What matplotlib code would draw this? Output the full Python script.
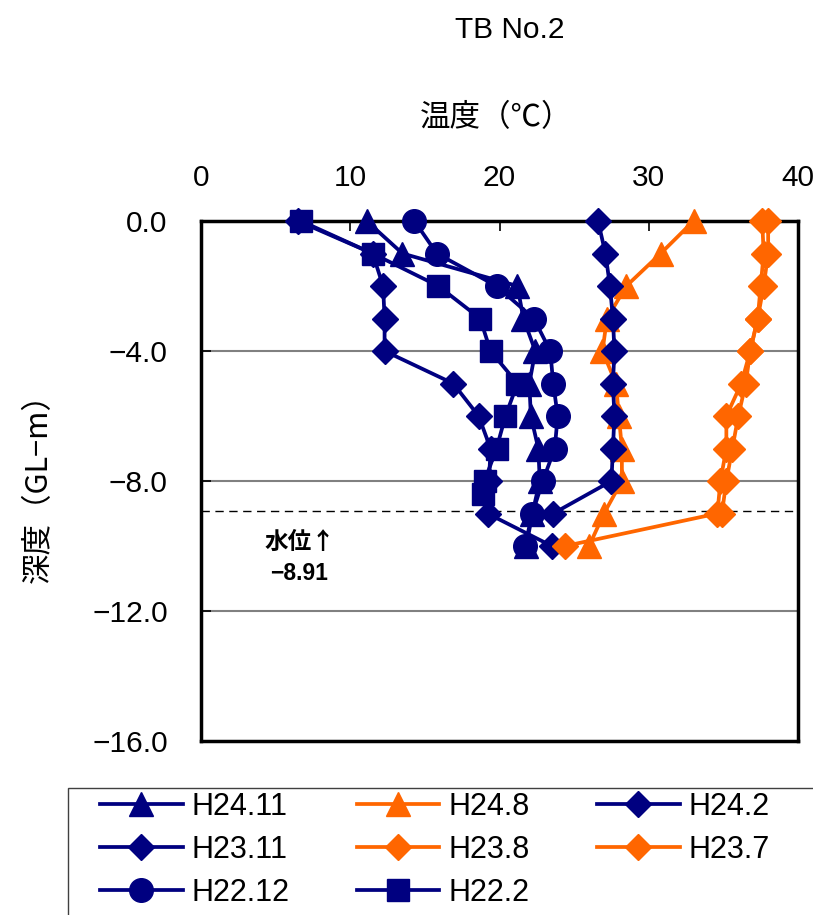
import matplotlib
matplotlib.use("Agg")
import matplotlib.pyplot as plt
from matplotlib.patches import Rectangle

plt.rcParams['font.family'] = ['Liberation Sans', 'Noto Sans CJK JP', 'DejaVu Sans']

# ---- data ----
depth = [0, -1, -2, -3, -4, -5, -6, -7, -8, -9, -10]
depth_h222 = [0, -1, -2, -3, -4, -5, -6, -7, -8, -8.4]
depth_h2311 = [0, -1, -2, -3, -4, -5, -6, -7, -8, -9]
depth_h237 = [0, -1, -2, -3, -4, -5, -6, -7, -8, -9]

h24_11 = [11.1, 13.5, 21.2, 21.6, 22.4, 22.0, 22.1, 22.6, 22.7, 22.2, 21.8]
h24_8 = [33.0, 30.8, 28.5, 27.2, 26.9, 27.8, 28.0, 28.2, 28.2, 27.0, 26.0]
h24_2 = [6.5, 11.5, 12.2, 12.3, 12.3, 16.9, 18.6, 19.4, 19.3, 19.2, 23.5]
h23_11 = [26.6, 27.1, 27.4, 27.6, 27.7, 27.6, 27.7, 27.6, 27.5, 23.6]
h23_8 = [37.6, 37.7, 37.5, 37.3, 36.8, 36.2, 35.2, 35.2, 34.8, 34.6, 24.4]
h23_7 = [38.0, 38.0, 37.7, 37.3, 36.8, 36.5, 36.0, 35.6, 35.2, 34.9]
h22_12 = [14.3, 15.8, 19.8, 22.3, 23.4, 23.6, 23.9, 23.7, 22.9, 22.2, 21.7]
h22_2 = [6.7, 11.5, 15.9, 18.7, 19.4, 21.2, 20.4, 19.8, 19.0, 18.9]

water_level = -8.91
x_ticks = [0, 10, 20, 30, 40]
y_ticks = [0, -4, -8, -12, -16]
y_ticklabels = ['0.0', '\u22124.0', '\u22128.0', '\u221212.0', '\u221216.0']

NAVY = '#000080'
ORANGE = '#FF6600'

fig = plt.figure(figsize=(8.13, 9.15), dpi=100)
ax = fig.add_axes([201/813, 1-741/915, (798-201)/813, (741-221)/915])

lw = 2.7
series = [
    ('H24.11', h24_11, depth, NAVY, '^', 17),
    ('H24.8', h24_8, depth, ORANGE, '^', 17),
    ('H24.2', h24_2, depth, NAVY, 'D', 13.5),
    ('H23.11', h23_11, depth_h2311, NAVY, 'D', 13.5),
    ('H23.8', h23_8, depth, ORANGE, 'D', 13.5),
    ('H23.7', h23_7, depth_h237, ORANGE, 'D', 13.5),
    ('H22.12', h22_12, depth, NAVY, 'o', 17),
    ('H22.2', h22_2, depth_h222, NAVY, 's', 16),
]
hd = {}
for name, t, d, c, m, s in series:
    h, = ax.plot(t, d, color=c, marker=m, markersize=s, linewidth=lw,
                 markeredgecolor=c, label=name, clip_on=False, zorder=3)
    hd[name] = h

ax.set_xlim(0, 40)
ax.set_ylim(-16, 0)
ax.xaxis.tick_top()
ax.set_xticks(x_ticks)
ax.set_yticks(y_ticks)
ax.set_yticklabels(y_ticklabels)
ax.tick_params(axis='both', direction='in', length=7, width=1.2, labelsize=21.5, pad=24)
ax.tick_params(axis='x', pad=21)
for y in [-4, -8, -12]:
    ax.axhline(y, color='#808080', linewidth=1.5, zorder=1)
ax.axhline(water_level, color='black', linewidth=1.0, linestyle=(0, (6, 4)), zorder=1)
for sp in ax.spines.values():
    sp.set_linewidth(2.5)
    sp.set_color('black')

ax.text(6.6, -9.87, '水位\u2191', ha='center', va='center', fontsize=17, fontweight='bold',
        family=['Noto Sans CJK JP', 'DejaVu Sans'])
ax.text(6.6, -10.85, '\u22128.91', ha='center', va='center', fontsize=16.5, fontweight='bold')

fig.text(510/813, 1-30/915, 'TB No.2', ha='center', va='center', fontsize=21.5)
fig.text(496/813, 1-118/915, '温度（℃）', ha='center', va='center', fontsize=22,
         family=['Noto Sans CJK JP', 'DejaVu Sans'])
fig.text(38/813, 1-481/915, '深度（GL\u2212m）', ha='center', va='center', fontsize=22, rotation=90,
         family=['Noto Sans CJK JP', 'DejaVu Sans'])

# legend frame
fig.patches.append(Rectangle((68/813, -0.1), 1.0, 0.1 + 1-788/915, transform=fig.transFigure,
                             facecolor='white', edgecolor='#404040', linewidth=1.0, zorder=0))
order = ['H24.11', 'H23.11', 'H22.12', 'H24.8', 'H23.8', 'H22.2', 'H24.2', 'H23.7']
leg = fig.legend(handles=[hd[n] for n in order], loc='upper left',
                 bbox_to_anchor=(100/813, 1-792/915),
                 ncol=3, frameon=False, handlelength=2.7, handletextpad=0.3,
                 columnspacing=2.2, labelspacing=0.42, borderaxespad=0, borderpad=0,
                 prop={'family': ['Liberation Sans', 'DejaVu Sans'], 'size': 22})

fig.savefig('out.png', dpi=100)
